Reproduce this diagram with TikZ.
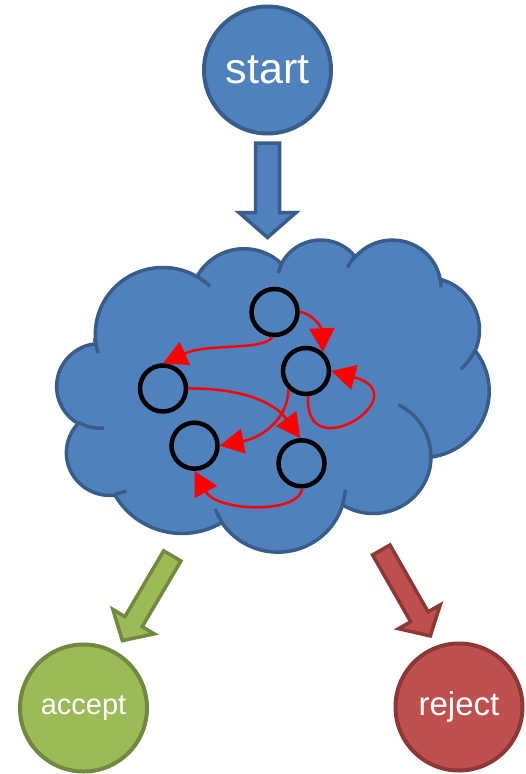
\documentclass[tikz,border=0pt]{standalone}
\usepackage{fontspec}
\setmainfont{Liberation Sans}
\usetikzlibrary{calc,arrows.meta}
\definecolor{bfill}{HTML}{4F81BD}
\definecolor{bline}{HTML}{385D8A}
\definecolor{gfill}{HTML}{9BBB59}
\definecolor{gline}{HTML}{71893F}
\definecolor{rfill}{HTML}{C0504D}
\definecolor{rline}{HTML}{8C3836}
\newcommand\blockarr[6]{%
  \coordinate (#2h) at ($(#2)!#5!(#1)$);
  \filldraw[#6] ($(#1)!#3!90:(#2)$) -- ($(#2h)!#3!90:(#2)$) -- ($(#2h)!#4!90:(#2)$) -- (#2)
    -- ($(#2h)!#4!-90:(#2)$) -- ($(#2h)!#3!-90:(#2)$) -- ($(#1)!#3!-90:(#2)$) -- cycle;
}
\tikzset{
  oarc/.style n args={4}{x radius=#1, y radius=#2,
     start angle={atan2(#1*sin(#3),#2*cos(#3))},
     delta angle={mod(atan2(#1*sin(#3+#4),#2*cos(#3+#4))-atan2(#1*sin(#3),#2*cos(#3))+720,360)}},
  cloudshape/.style={fill=bfill, draw=bline, line width=3.5pt},
  cloudedge/.style={draw=bline, line width=3.5pt},
  bignode/.style={circle, minimum size=127pt, inner sep=0pt, line width=4pt, text=white},
  smallstate/.style={circle, draw=black, line width=4.5pt, minimum size=46pt, inner sep=0pt},
  redge/.style={draw=red, line width=2.5pt, -{Triangle[length=24pt,width=25pt]}},
  bluearr/.style={fill=bfill, draw=bline, line width=3.5pt},
  greenarr/.style={fill=gfill, draw=gline, line width=3.5pt},
  redarr/.style={fill=rfill, draw=rline, line width=3.5pt},
}
\begin{document}
\begin{tikzpicture}[x=1pt,y=-1pt]
\fill[white] (0,0) rectangle (526,774);
\useasboundingbox (0,0) rectangle (526,774);

% cloud
\begin{scope}[shift={(57,239)},x=1pt,y=-0.7222pt]
\filldraw[cloudshape] (39.00,143.70)
 arc[oarc={67.53}{91.90}{-190.4875}{123.7805}]
 arc[oarc={53.33}{72.67}{-144.1024}{89.9452}]
 arc[oarc={43.65}{59.45}{-145.8079}{99.7230}]
 arc[oarc={48.57}{65.95}{-130.9861}{117.2417}]
 arc[oarc={53.33}{72.73}{-78.7089}{109.0269}]
 arc[oarc={67.75}{92.20}{-46.2673}{130.2690}]
 arc[oarc={57.85}{78.67}{0.6250}{114.0333}]
 arc[oarc={67.52}{92.15}{22.4516}{115.1726}]
 arc[oarc={77.20}{105.43}{66.2426}{75.7110}]
 arc[oarc={43.60}{59.18}{-274.9421}{146.7356}]
 arc[oarc={43.45}{59.45}{-246.8285}{152.5189}]
 -- cycle;
\draw[cloudedge] (46.93,261.77) arc[oarc={43.45}{59.45}{86.7420}{26.4295}]
 (69.28,348.99) arc[oarc={43.60}{59.18}{73.6105}{11.4475}]
 (164.78,390.90) arc[oarc={67.52}{92.15}{137.6242}{14.0811}]
 (288.27,347.51) arc[oarc={67.52}{92.15}{6.4533}{15.9984}]
 (341.29,229.54) arc[oarc={57.85}{78.67}{-70.2924}{70.9174}]
 (417.98,153.54) arc[oarc={53.33}{72.73}{30.3180}{27.7515}]
 (383.24,54.26) arc[oarc={48.57}{65.95}{-13.7443}{14.8604}]
 (290.78,39.52) arc[oarc={48.57}{65.95}{-149.1815}{18.1954}]
 (221.41,47.20) arc[oarc={43.65}{59.45}{-163.4943}{17.6864}]
 (140.00,51.92) arc[oarc={67.53}{91.90}{-66.7070}{12.3194}]
 (41.27,157.89) arc[oarc={67.53}{91.90}{153.5988}{17.1566}];
\end{scope}

% big nodes
\node[bignode, fill=bfill, draw=bline, font=\fontsize{43}{50}\selectfont] (start) at (267.5,70) {start};
\node[bignode, fill=gfill, draw=gline, font=\fontsize{29}{34}\selectfont] (accept) at (83.5,708) {accept};
\node[bignode, fill=rfill, draw=rline, font=\fontsize{33}{38}\selectfont] (reject) at (459,707) {reject};

% block arrows
\coordinate (bt) at (267.5,143);
\coordinate (bp) at (267.5,237.5);
\blockarr{bt}{bp}{12pt}{28.5pt}{25pt}{bluearr}
\coordinate (gt) at (172.3,555.9);
\coordinate (gp) at (122.4,640.6);
\blockarr{gt}{gp}{10pt}{24pt}{22pt}{greenarr}
\coordinate (rt) at (381.3,550);
\coordinate (rp) at (430.3,635.9);
\blockarr{rt}{rp}{10pt}{24pt}{22pt}{redarr}

% inner states
\node[smallstate] (n1) at (274.5,312) {};
\node[smallstate] (n2) at (306,371) {};
\node[smallstate] (n3) at (163,388.5) {};
\node[smallstate] (n4) at (194.5,445.7) {};
\node[smallstate] (n5) at (301.5,463.3) {};

% transitions
\draw[redge] (n1.265) .. controls (263,351) and (208,343) .. (n3.90);
\draw[redge] (n1.0) .. controls (315,314) and (322,330) .. (n2.48);
\draw[redge] (n2.-85) .. controls (303,470) and (420,395) .. (n2.0);
\draw[redge] (n3.0) .. controls (230,388) and (270.8,397.5) .. (n5.93);
\draw[redge] (n2.226) .. controls (288,418) and (263.7,437.2) .. (n4.0);
\draw[redge] (n5.-88) .. controls (298,515) and (216.4,511.3) .. (n4.-90);
\end{tikzpicture}
\end{document}
